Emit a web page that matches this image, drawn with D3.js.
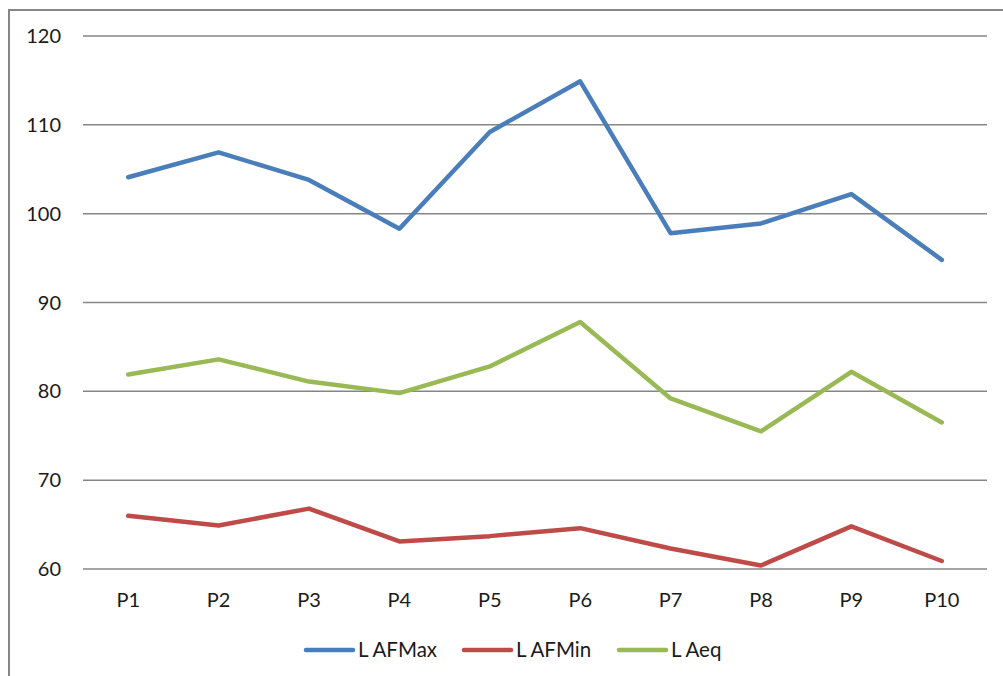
<!DOCTYPE html>
<html>
<head>
<meta charset="utf-8">
<script src="https://cdn.jsdelivr.net/npm/d3@7"></script>
<style>
  body { margin: 0; background: #fff; }
  text { font-family: Lato, "Liberation Sans", sans-serif; fill: #1a1a1a; }
</style>
</head>
<body>
<div id="chart"></div>
<script>
var categories = ["P1", "P2", "P3", "P4", "P5", "P6", "P7", "P8", "P9", "P10"];
var lafMax = [104.1, 106.9, 103.8, 98.3, 109.2, 114.9, 97.8, 98.9, 102.2, 94.8];
var lafMin = [66.0, 64.9, 66.8, 63.1, 63.7, 64.6, 62.3, 60.4, 64.8, 60.9];
var laeq = [81.9, 83.6, 81.1, 79.8, 82.8, 87.8, 79.2, 75.5, 82.2, 76.5];
var yTicks = [60, 70, 80, 90, 100, 110, 120];
var seriesNames = ["L AFMax", "L AFMin", "L Aeq"];
var seriesColors = ["#4a7ebb", "#be4b48", "#98b954"];

var width = 1003, height = 676;

var svg = d3.select("#chart").append("svg")
  .attr("width", width)
  .attr("height", height);

// outer frame (runs off the right/bottom edge)
svg.append("rect")
  .attr("x", 9).attr("y", 10)
  .attr("width", 1010).attr("height", 700)
  .attr("fill", "none")
  .attr("stroke", "#868686")
  .attr("stroke-width", 2);

var x = d3.scaleBand().domain(categories).range([83, 987]);
var y = d3.scaleLinear().domain([60, 120]).range([569, 36]);

// gridlines
svg.selectAll(".grid")
  .data(yTicks)
  .enter().append("line")
  .attr("class", "grid")
  .attr("x1", 83).attr("x2", 987)
  .attr("y1", function(d){ return y(d); })
  .attr("y2", function(d){ return y(d); })
  .attr("stroke", "#868686")
  .attr("stroke-width", 1.5);

// y labels
svg.selectAll(".ylab")
  .data(yTicks)
  .enter().append("text")
  .attr("class", "ylab")
  .attr("x", 61)
  .attr("y", function(d){ return y(d); })
  .attr("dy", "0.35em")
  .attr("text-anchor", "end")
  .style("font-size", "20px")
  .text(function(d){ return d; });

// x labels
svg.selectAll(".xlab")
  .data(categories)
  .enter().append("text")
  .attr("class", "xlab")
  .attr("x", function(d){ return x(d) + x.bandwidth() / 2; })
  .attr("y", 600)
  .attr("dy", "0.35em")
  .attr("text-anchor", "middle")
  .style("font-size", "20px")
  .text(function(d){ return d; });

var line = d3.line()
  .x(function(d, i){ return x(categories[i]) + x.bandwidth() / 2; })
  .y(function(d){ return y(d); });

var allSeries = [lafMax, lafMin, laeq];
allSeries.forEach(function(vals, i){
  svg.append("path")
    .datum(vals)
    .attr("d", line)
    .attr("fill", "none")
    .attr("stroke", seriesColors[i])
    .attr("stroke-width", 4.5)
    .attr("stroke-linejoin", "round")
    .attr("stroke-linecap", "round");
});

// legend
var legendX = [306, 464, 619];
var legend = svg.selectAll(".leg")
  .data(seriesNames)
  .enter().append("g")
  .attr("class", "leg")
  .attr("transform", function(d, i){ return "translate(" + legendX[i] + ",650)"; });

legend.append("line")
  .attr("x1", 0).attr("x2", 47)
  .attr("stroke", function(d, i){ return seriesColors[i]; })
  .attr("stroke-width", 4.5)
  .attr("stroke-linecap", "round");

legend.append("text")
  .attr("x", 52)
  .attr("dy", "0.35em")
  .style("font-size", "20.5px")
  .text(function(d){ return d; });
</script>
</body>
</html>
